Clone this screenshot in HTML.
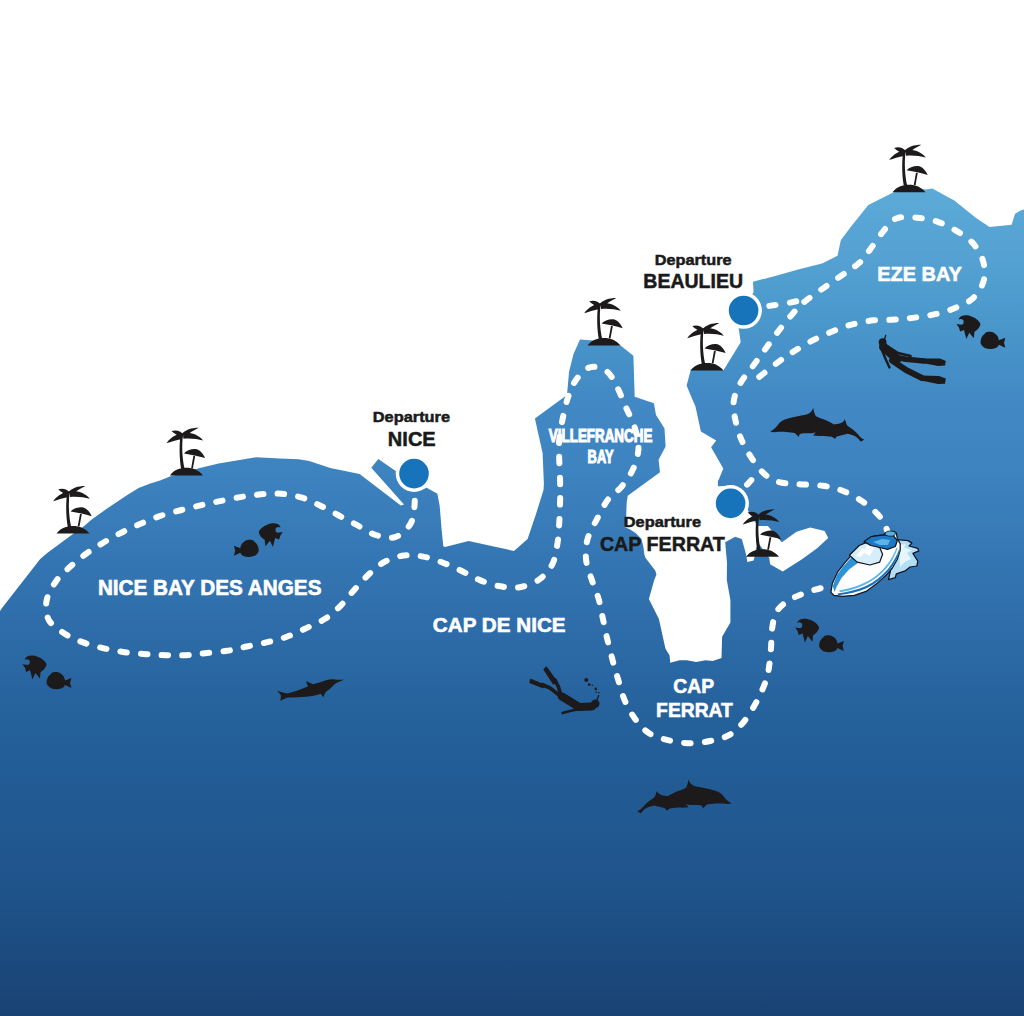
<!DOCTYPE html>
<html><head><meta charset="utf-8"><style>
html,body{margin:0;padding:0;background:#fff;}
svg{display:block;}
text{font-family:"Liberation Sans", sans-serif;font-weight:bold;}
</style></head><body>
<svg width="1024" height="1016" viewBox="0 0 1024 1016">
<defs>
<linearGradient id="sea" gradientUnits="userSpaceOnUse" x1="0" y1="190" x2="0" y2="1016">
<stop offset="0" stop-color="#5caad8"/>
<stop offset="0.018" stop-color="#5aa8d6"/>
<stop offset="0.073" stop-color="#55a2d3"/>
<stop offset="0.161" stop-color="#4a97cb"/>
<stop offset="0.26" stop-color="#4188c4"/>
<stop offset="0.345" stop-color="#3d83bf"/>
<stop offset="0.454" stop-color="#3375b2"/>
<stop offset="0.517" stop-color="#2f6eab"/>
<stop offset="0.648" stop-color="#24609a"/>
<stop offset="0.841" stop-color="#1f548b"/>
<stop offset="1" stop-color="#194274"/>
</linearGradient>
<g id="palm" fill="#1c1a1b">
<path d="M-16.5,0 C-12.5,-5.5 -6.5,-7.6 0,-7.6 C6.5,-7.6 12.5,-5.2 16.5,0 Z"/>
<path d="M-5.2,-6.5 C-7,-16 -7.4,-30 -5.8,-41 L-3.4,-41 C-4.8,-30 -4.2,-17 -1.8,-6.5 Z"/>
<path d="M-3,-41 C-6,-44.6 -10,-45.8 -14.8,-44.4 C-12.5,-42 -9,-39.8 -5.5,-38.6 Z"/>
<path d="M-3,-41.8 C-9,-41.8 -15.5,-38.5 -19.8,-32.3 C-15.5,-33.6 -10.5,-35.5 -4.5,-36.5 Z"/>
<path d="M-4.6,-41.4 C-1,-45.6 5,-47.6 12.3,-47.6 C7.5,-45.2 2.5,-42 -1.5,-38.8 Z"/>
<path d="M-3.5,-42.3 C3,-43.4 11.5,-41.5 16.8,-34.8 C11,-36.3 5,-37.2 -3,-36.6 Z"/>
<path d="M-2.4,-22 C0,-25 4.5,-26.6 9,-26.4 C13.2,-26 16.6,-22 18.7,-17.4 C12,-19.2 5,-20.9 -2.4,-22 Z"/>
<path d="M7,-19.6 L8.8,-19.6 L6.5,-7 L4.7,-7 Z"/>
</g>
<g id="fish" fill="#1c1a1b">
<path d="M24,8.8 C23,6 20,3 15,1.2 C12,0 8,-0.5 5,0.8 C3.5,1.5 2.5,2.8 2.2,4.3 C3.5,3.5 5,3.6 6.5,4.6 C7.3,5.5 7.4,7 6.8,8.6 L5.2,9.6 L0,8.8 L2.5,12.5 L3.6,16.4 L7.5,14.8 L9.8,23.9 L12.8,17.5 L17.3,23.1 L18,16.6 C21,14.8 23.5,12 24,8.8 Z"/>
<path d="M24,27 C24,23.5 25.5,20.5 28,18.8 C29,17 31,16.3 33,16.6 C35,16.3 37,17 38.5,18.5 C40.5,19.5 42,22 42.4,25 L48.8,22.5 L47.5,27.5 L48.8,32.5 L42.3,29.5 C41.5,32 39,33.6 35,33.7 C30.5,34 26.5,32.5 24.8,29.5 C24.2,28.8 24,28 24,27 Z"/>
</g>
<path id="dolphin" d="M100,0 C95,-1.5 91,-2 87,-3.5 C82,-6 76,-6 70,-5.5 C63,-5 58,-4.5 54,-4.5 C50,-7 47,-10 44,-11.5 C44.5,-8 45,-5 45.5,-3.5 C36,-2 24,0 13,0 C8,-2 3,-5 -1,-8 C1,-4 2,-1 3,0.5 C2,3 1,6 0,8 C5,7 9,6 13,6 C25,9 38,12 50,12.5 C55,12.5 58,12.5 61,12 C62,14 63,16 64,18 C65.5,15.5 67,13 68.5,11.5 C72,10 75,9 78,7 C82,4.5 85,2.5 89,1.5 C93,0.8 97,0.5 100,0 Z"/>
<g id="dpair" fill="#1c1a1b">
<path d="M688.5,779.7 C689.5,783 692,785.5 696,786.5 C700,787.3 705,788 710,789.3 C715,790.5 719,792 721.5,794 C723.5,795.8 725,798.5 727,800.3 C728.5,801.6 730,802.5 731.6,803.2 C730,803.8 728.5,804 727,803.9 C724,803.6 720,803.4 716,803.6 C712,803.8 709,804.2 707,804.6 C705.5,806 704.2,807.5 703,808.6 C702.8,807 702,805.8 700.5,805.2 C697,805 694,804.8 690,805 L672,801 L668,796 C672,793.5 677,791.2 682,789.7 C684,789 685.5,788.3 686.3,787.3 C687.3,785 688,782.5 688.5,779.7 Z"/>
<path d="M637.2,811 C638.5,810.8 640,810 641.5,808.6 C644,805.5 648,801.8 652.5,798.8 C654,797.8 655,796.6 655.5,795.2 C655.8,793.7 656.2,792.2 656.9,791 C657.8,793 659.5,794.6 662,795.2 C665,795.8 668,796.2 671,796.5 C676,797.5 681,800 684.5,802.5 C686,803.8 687.5,805.5 688.5,807.3 C686,807.6 683,807.7 680.5,807.6 C677,807.7 673,808 670,808.5 C668.5,809.3 667.5,810.2 666.5,810.5 C666,809.6 665.6,808.8 665,808.2 C661,807.3 657,806.2 654.5,805.4 C651,806 648,807 645.5,808.6 C644,809.5 643,810.5 642.3,811.6 C641.5,812.6 641,813.2 640.6,813.3 C639.5,812.6 638.3,811.9 637.2,811 Z"/>
</g>
</defs>
<rect width="1024" height="1016" fill="#fff"/>
<path d="M0,611 L2.4,607.5 L40.2,559 L47.2,553.1 L70.9,535.4 L82.7,527.2 L91.7,519.5 L109.3,506.9 L126.9,495.2 L138.6,488.1 L150.3,483.4 L160,480.4 L170.5,476.3 L186,472 L199.8,468.1 L218.6,463.4 L256.1,457.3 L280,458.4 L298.7,459.3 L309.2,461.1 L330.3,468.1 L359.6,474 L400.8,505.5 L404,504.5 L371.3,467.7 L378.3,458.9 L396,471.3 L405,488 L420,490 L426.7,487.8 L437.4,493.7 L439.7,506 L441.5,528.5 L443.3,546.3 L445,547 L468.6,541 L514,551 L527.6,539 L536,514 L543.5,490 L543.9,483.8 L542.6,453 L534.9,418.5 L567,395 L569,372 L573.5,354 L580,339.5 L600,341 L620.6,345.6 L633.4,355.8 L634.7,396.8 L653.9,403.2 L656,415 L664.5,428.5 L665.6,446.5 L658.6,459.8 L660,472.2 L627.7,495.7 L626.7,502.6 L626.2,516.4 L624.7,527.2 L629.7,529.2 L635.6,533.1 L641.5,539 L643.4,546.9 L644.4,554.7 L645.4,557.7 L655.2,570.5 L656.5,574.4 L654.2,580 L648.9,598.9 L658.9,619 L665.4,648.5 L669.6,655.6 L670.2,662.7 L679.6,660.3 L686.7,660.3 L696.1,662.1 L705.6,660.3 L712.7,660.9 L721.5,658 L722.1,636.7 L730.4,622.5 L730.4,600 L726.8,580 L727,563 L725.2,542.2 L735.1,536.7 L741.8,539.1 L744.9,550.1 L746.5,556.4 L747.3,561.9 L753.6,560.4 L754.4,557.2 L756,548 L759,544 L765,552 L769.3,558 L770.1,564.3 L782.7,571.4 L802,559.2 L817.1,548.2 L828.2,537.9 L824.7,531 L810.2,527.5 L796.5,531.7 L781.9,542.2 L767.8,526.1 L757.5,526.1 L750,514 L745,505 L737,491 L725,486 L717.9,486.2 L717.9,480.7 L718.6,480 L723.3,468.5 L711.1,447.2 L716.2,440.6 L700.9,431.5 L695.4,406.3 L692.6,400 L686.6,385.6 L690.9,369.4 L700,364 L715,364 L723.4,370.5 L740.7,342.3 L738.5,327.1 L735,322 L750,300 L753.5,292 L753,281.7 L774.3,276.2 L800,268.9 L822,263.4 L837.5,255.7 L840.8,240.2 L850.7,227 L868.3,205 L892.6,192.8 L909,187 L925.7,189.5 L932.3,188.4 L954.3,200.5 L976.4,218.2 L989.6,227 L1011.6,224.8 L1015,213.8 L1020.5,210.5 L1024,209.4 L1024,1016 L0,1016 Z" fill="url(#sea)"/>
<!-- breakwater -->
<!-- routes -->
<g stroke="#fff" stroke-width="6" stroke-linecap="round" stroke-dasharray="6.5 14.17" fill="none">
<path d="M414,478 C414.1,482.4 415.2,496.9 414.6,504.6 C414,512.3 413.6,518.7 410.3,524.1 C407.1,529.5 400.9,535.3 395.1,537.1 C389.3,538.9 382,537 375.7,535 C369.4,533 363.3,528.5 357.2,525.2 C351.1,522 344.9,518.8 338.8,515.5 C332.7,512.2 326.5,508.7 320.4,505.7 C314.3,502.7 308.5,499.7 302,497.7 C295.5,495.7 288.4,494.4 281.5,493.8 C274.6,493.2 267.8,493.8 260.9,494.3 C254,494.9 247.3,495.9 240.3,497.1 C233.3,498.3 225.5,500 218.7,501.4 C211.9,502.8 205.8,504.1 199.3,505.6 C192.8,507.1 186.3,508.7 179.6,510.5 C172.9,512.3 165.6,514.1 158.9,516.4 C152.2,518.7 145.7,521.5 139.3,524.3 C132.9,527.1 126.7,530 120.6,533.1 C114.5,536.2 108.5,539.5 102.8,543 C97,546.5 91.5,549.9 86.1,553.8 C80.7,557.7 75.3,562.2 70.4,566.6 C65.5,571 60.6,574.8 56.6,580.4 C52.6,586 48,593.5 46.7,600.1 C45.4,606.7 45.8,614.2 48.7,619.8 C51.7,625.4 58.7,629.7 64.4,633.5 C70.1,637.3 76.5,639.9 83.1,642.4 C89.7,644.9 96.9,646.7 103.8,648.3 C110.7,649.9 117.5,651.2 124.5,652.2 C131.6,653.2 139.2,653.7 146.1,654.2 C153,654.7 159.2,655 165.8,655.2 C172.4,655.4 178.9,655.5 185.5,655.2 C192.1,654.9 198.2,653.9 205.2,653.2 C212.2,652.5 220.4,651.9 227.3,650.8 C234.2,649.7 240.1,647.9 246.8,646.5 C253.5,645.1 260.7,643.8 267.4,642.2 C274.1,640.6 280.4,639.1 286.9,636.7 C293.4,634.4 299.9,631.2 306.4,628.1 C312.9,625 320.1,622.1 325.9,618.3 C331.7,614.5 336.3,610 341,605.3 C345.7,600.6 349.5,595.2 354,590.2 C358.5,585.2 363.1,579.7 368.1,575 C373.2,570.3 378.4,565.2 384.3,562 C390.2,558.8 397.3,556.4 403.8,555.5 C410.3,554.6 416.8,555.4 423.3,556.6 C429.8,557.8 436.4,560.2 443,562.7 C449.6,565.2 456.5,568.5 462.7,571.5 C468.9,574.5 474.2,577.9 480.4,580.4 C486.6,582.9 493.5,585.1 500.1,586.3 C506.7,587.4 513.2,588.4 519.8,587.3 C526.3,586.1 534,583.2 539.4,579.4 C544.8,575.6 549.2,570.3 552.2,564.6 C555.2,558.9 556.1,551.5 557.2,545 C558.4,538.5 558.6,532.5 559.1,525.3 C559.6,518.1 559.9,508.9 560.1,501.7 C560.3,494.5 560.2,489.2 560.1,482 C560,474.8 559.4,465.1 559.2,458.2 C559.1,451.2 558.6,447.1 559.2,440.3 C559.8,433.5 561.5,424.4 563,417.2 C564.5,409.9 566.1,403 568.2,396.8 C570.4,390.6 572.3,385 575.9,380.1 C579.5,375.2 584.8,368.8 589.9,367.3 C595,365.8 602.1,368 606.6,371.2 C611.1,374.4 613.6,380.5 616.8,386.5 C620,392.5 622.8,400.2 625.8,407 C628.8,413.8 632.6,420.7 634.7,427.5 C636.8,434.3 638.7,441.1 638.5,447.9 C638.3,454.7 636.2,462 633.4,468.4 C630.6,474.8 626.1,481.1 621.9,486.3 C617.7,491.5 612.3,493.9 608.2,499.3 C604.1,504.7 600.7,512 597.2,518.6 C593.8,525.2 589.4,532.3 587.5,539.2 C585.6,546.1 585.4,553.2 586.1,559.9 C586.8,566.6 589.5,572.8 591.6,579.2 C593.7,585.6 596.6,592.1 598.5,598.5 C600.4,604.9 601.3,611.4 602.7,617.8 C604.1,624.2 605.2,630.2 606.8,637.1 C608.4,644 610.5,652.2 612.3,659.1 C614.1,666 615.7,671.5 617.8,678.4 C619.9,685.3 621.7,693.5 624.7,700.4 C627.7,707.3 631.6,714.2 635.7,719.7 C639.8,725.2 644,730 649.5,733.5 C655,737 661.9,738.8 668.8,740.4 C675.7,742 683.4,743.2 690.8,743.2 C698.1,743.2 706.5,741.8 712.9,740.4 C719.3,739 724.3,737.9 729.4,734.9 C734.5,731.9 739.1,727.3 743.2,722.5 C747.3,717.7 751,711.5 754.2,706 C757.4,700.5 760.2,694.9 762.5,689.4 C764.8,683.9 766.6,679.3 768,672.9 C769.4,666.5 770.1,658.1 770.8,650.8 C771.5,643.4 771.2,635.2 772.1,628.8 C773,622.4 773.8,616.9 776.3,612.3 C778.8,607.7 783.2,604.2 787.3,601.2 C791.4,598.2 796.5,596.4 801,594.5 C805.5,592.6 809.2,591.4 814,590 C818.8,588.6 827.3,586.7 830,586" stroke-dashoffset="-1.84"/>
<path d="M888,533 C887.3,531.3 885.9,526.3 884,523 C882.1,519.7 880.6,517 876.8,513.3 C873,509.5 866.7,504.3 861,500.5 C855.3,496.7 848.8,493.2 842.4,490.7 C836,488.2 830,486.8 822.7,485.7 C815.5,484.6 806.6,484.9 798.9,484.2 C791.2,483.5 782.9,483.7 776.5,481.3 C770.1,478.9 765.8,475.8 760.5,470 C755.2,464.2 748.6,453.7 744.6,446.3 C740.6,438.9 738.6,432.7 736.7,425.5 C734.9,418.3 733,410.1 733.5,403.2 C734,396.3 736.7,390.2 739.9,384.1 C743.1,378 748.4,372.4 752.6,366.5 C756.9,360.6 761.1,354.8 765.4,349 C769.6,343.2 773.6,337.4 778.1,331.5 C782.6,325.6 788,318.9 792.5,313.9 C797,308.8 799.4,306 805.2,301.2 C811.1,296.4 820.5,290.2 827.6,285.2 C834.7,280.2 842.6,274.8 848,271 C853.4,267.2 856.3,265.8 860,262.2 C863.7,258.6 866.5,254.2 870.3,249.2 C874.1,244.2 878.3,237.2 882.6,232.1 C886.9,227 890.4,220.9 896.2,218.5 C902,216.1 910.5,217.2 917.4,217.8 C924.3,218.4 931.4,219.7 937.9,221.9 C944.4,224.1 950.6,227.3 956.4,230.8 C962.2,234.3 968.4,238.1 972.8,243.1 C977.2,248.1 981.2,254.5 983,260.8 C984.8,267.1 985.4,274.4 983.7,280.7 C982,287 977.6,293.8 972.8,298.4 C968,302.9 961.3,305.4 955,308 C948.7,310.6 941.9,312.6 935.2,314.2 C928.5,315.8 921.4,316.7 914.7,317.6 C908,318.5 901.7,319.2 894.9,319.6 C888.1,320.1 880.2,319.7 873.7,320.3 C867.2,320.9 861.6,322.2 856,323.5 C850.4,324.8 847.2,325.7 840.3,328.3 C833.4,330.9 822.8,335.4 814.8,339.4 C806.8,343.4 798.9,348.2 792.5,352.2 C786.1,356.2 782.4,359 776.5,363.4 C770.6,367.8 760.2,376.2 757,378.8" stroke-dashoffset="2"/>
<path d="M750,308 C753.1,307.7 761.5,307 768.6,306 C775.7,305 785.9,303.4 792.5,302.1 C799.1,300.8 805.8,298.7 808.4,298" stroke-dashoffset="1.2"/>
<path d="M735,496 C737.1,494 743.7,488.1 747.9,483.8 C752.1,479.5 758,472.3 760,470" stroke-dashoffset="4.2"/>
</g>
<!-- halos & departure circles -->
<circle cx="414" cy="473.6" r="18.3" fill="#fff"/>
<circle cx="414" cy="473.6" r="14.8" fill="#1773ba"/>
<circle cx="743.6" cy="310.5" r="18.3" fill="#fff"/>
<circle cx="743.6" cy="310.5" r="14.8" fill="#1773ba"/>
<circle cx="730.6" cy="503.4" r="18.3" fill="#fff"/>
<circle cx="730.6" cy="503.4" r="14.8" fill="#1773ba"/>
<!-- palms -->
<use href="#palm" x="73" y="533.6"/>
<use href="#palm" x="186.4" y="475.4"/>
<use href="#palm" x="604" y="345.6"/>
<use href="#palm" x="707" y="370.5"/>
<use href="#palm" x="909" y="192.3"/>
<use href="#palm" x="762.5" y="556.8"/>
<!-- fish -->
<use href="#fish" transform="translate(282.7,523.2) scale(-1,1)"/>
<use href="#fish" transform="translate(22.6,655.5)"/>
<use href="#fish" transform="translate(956.5,315.2)"/>
<use href="#fish" transform="translate(795.1,618.6)"/>
<!-- dolphins -->
<use href="#dolphin" fill="#1c1a1b" transform="translate(279,695.6) rotate(-13.6) scale(0.671)"/>
<use href="#dpair"/>
<use href="#dpair" transform="translate(1501.7,-371.7) scale(-1,1)"/>
<g fill="#1c1a1b" stroke="#1c1a1b" stroke-linecap="round" stroke-linejoin="round">
<circle cx="882.6" cy="342.2" r="3.9" stroke="none"/>
<path d="M884.3,340 L885.7,335.4" stroke-width="1.4" fill="none"/>
<path d="M883.5,347 L897,359" stroke-width="9" fill="none"/>
<path d="M881.5,349 L886,360 L889.5,367.5" stroke-width="2.4" fill="none"/>
<path d="M888,346.5 L898,353 L910.6,356" stroke-width="2.4" fill="none"/>
<path d="M894,357 L906,359.2 L924,361" stroke-width="5.6" fill="none"/>
<path d="M892,360.5 L906,370 L922,378" stroke-width="6" fill="none"/>
<path d="M919.5,358.4 L940,358.6 L945.8,361 L945,365.6 L938,366 L920,362.6 Z" stroke="none"/>
<path d="M921,375.4 L939,376 L945.8,378.4 L945,383.8 L938,384 L921,380.4 Z" stroke="none"/>
</g>
<g fill="#1c1a1b" stroke="#1c1a1b" stroke-linecap="round" stroke-linejoin="round">
<circle cx="595.3" cy="703.8" r="4.2" stroke="none"/>
<path d="M597,700 L598.6,695.5" stroke-width="1.3" fill="none"/>
<path d="M592,706.5 L579,707 L562,696.5" stroke-width="8" fill="none"/>
<path d="M580,709 L570,711 L562.5,713" stroke-width="2.4" fill="none"/>
<path d="M560.5,694 L558.5,687 L555,680" stroke-width="3.6" fill="none"/>
<path d="M559,695 L550,688 L542,684.5" stroke-width="3.6" fill="none"/>
<path d="M556.5,682 L546.3,667.6 L544.5,669.5 L553.5,683.5 Z" stroke-width="2"/>
<path d="M544.5,685.5 L531,679.8 L530.3,682.4 L543,687.2 Z" stroke-width="2"/>
<circle cx="586.3" cy="680" r="2" stroke="none"/>
<circle cx="589.2" cy="684.6" r="1.3" stroke="none"/>
<circle cx="592.3" cy="685.2" r="0.8" stroke="none"/>
<circle cx="595.7" cy="688.9" r="1.3" stroke="none"/>
<circle cx="596.2" cy="692.2" r="0.8" stroke="none"/>
<circle cx="598.8" cy="692.8" r="0.8" stroke="none"/>
</g>
<g stroke="#15151f" stroke-width="1.25" stroke-linejoin="round">
<path d="M888.5,579.7 L895.3,577.7 L896.3,573.8 L905.1,570.9 L910,567 L916.8,566 L917.8,561.1 L912.9,553.3 L918.8,550.9 L917.8,548.4 L909,546 L911.9,543.1 L908,540.6 L897.3,539.6 Z" fill="#b3dff5"/>
<path d="M899,545 L906,544 L904,547.5 L912,550 L907,553 L911,559 L905,562 L900,567 Z" fill="#e6f6fd" stroke="none"/>
<path d="M830.9,592.4 L832.3,583.6 L837.7,571.9 L844.5,563.1 L852.3,554.3 L862.1,545.5 L868,539.6 L873.8,536.2 L883.6,534.8 L885.5,532.8 L893.4,531.3 L896.3,532.8 L897.3,538.7 L900.2,543.6 L900.2,550.4 L897.3,559.2 L892.4,568 L885.5,575.8 L876.8,583.6 L866,591.4 L854.3,595.3 L842.6,596.3 L833.8,595.3 Z" fill="#fff"/>
<path d="M832.8,586 L837,575 L843,566.5 L850.4,558.5 L856.3,554 L858.5,562.5 L849,569.5 L841.5,578 L836.5,587 L834.6,592 Z" fill="#2d93d6" stroke="none"/>
<path d="M837.7,593.6 C848,592 858,589.5 866,586 C874,582 882,576 888,569 C893,562 897,556 899,549.5 L900,551 C898,558 894,565 889,571 C883,578 875,584 867,588 C858,592 848,594.5 838,595.2 Z" fill="#1d6fb6" stroke="none"/>
<path d="M839,590.5 C850,588.5 860,585.5 868,581 C877,576 884,569 889,562 C892.5,557 895,552 896.5,547.5 L897.5,548.5 C896,553 893.5,558.5 890,563.5 C885,571 878,577.5 869,582.5 C861,587 851,590.5 840,592.3 Z" fill="#5cb8e8" stroke="none"/>
<path d="M849.4,555.3 L859.2,545.5 L866,542.6 L879.7,547.5 L882.6,554.3 L879.7,562.1 L869.9,565 L857.2,562.1 Z" fill="#d5eefa"/>
<path d="M856,556 L862,548.5 L866,550 L861,557 Z M867,545 L874,547.5 L870,556 L864,553 Z" fill="#fff" stroke="none"/>
<path d="M864.1,541.6 L870.9,536.7 L883.6,534.8 L893.4,535.7 L897.3,540.6 L895.3,546.5 L887.5,549.4 L879.7,547.5 L870.9,545.5 Z" fill="#1c78c2"/>
<path d="M873,542 L882,539 L890,540 L888,545 L880,545 Z" fill="#5ab6e8" stroke="none"/>
<ellipse cx="890.4" cy="533.6" rx="5" ry="2.6" fill="#52b2e6" stroke-width="0.8"/>
</g>
<!-- labels -->
<text x="411.4" y="421.7" font-size="14.8" text-anchor="middle" textLength="77.3" lengthAdjust="spacingAndGlyphs" fill="#1a1a1a" stroke="#1a1a1a" stroke-width="0.5">Departure</text>
<text x="411.8" y="445.7" font-size="20" text-anchor="middle" textLength="47.9" lengthAdjust="spacingAndGlyphs" fill="#1a1a1a" stroke="#1a1a1a" stroke-width="0.5">NICE</text>
<text x="693.2" y="264.9" font-size="14.8" text-anchor="middle" textLength="76.8" lengthAdjust="spacingAndGlyphs" fill="#1a1a1a" stroke="#1a1a1a" stroke-width="0.5">Departure</text>
<text x="693.2" y="288.2" font-size="19.5" text-anchor="middle" textLength="99.7" lengthAdjust="spacingAndGlyphs" fill="#1a1a1a" stroke="#1a1a1a" stroke-width="0.5">BEAULIEU</text>
<text x="662.4" y="526.9" font-size="14.8" text-anchor="middle" textLength="77.3" lengthAdjust="spacingAndGlyphs" fill="#1a1a1a" stroke="#1a1a1a" stroke-width="0.5">Departure</text>
<text x="662.4" y="550.8" font-size="19.8" text-anchor="middle" textLength="125" lengthAdjust="spacingAndGlyphs" fill="#1a1a1a" stroke="#1a1a1a" stroke-width="0.5">CAP FERRAT</text>
<text x="209.7" y="595.2" font-size="21.2" text-anchor="middle" textLength="223.6" lengthAdjust="spacingAndGlyphs" fill="#fff" stroke="#fff" stroke-width="0.6">NICE BAY DES ANGES</text>
<text x="499.2" y="631.6" font-size="20.6" text-anchor="middle" textLength="132.8" lengthAdjust="spacingAndGlyphs" fill="#fff" stroke="#fff" stroke-width="0.6">CAP DE NICE</text>
<text x="919.6" y="280.8" font-size="21" text-anchor="middle" textLength="84.6" lengthAdjust="spacingAndGlyphs" fill="#fff" stroke="#fff" stroke-width="0.6">EZE BAY</text>
<text x="693.7" y="693.1" font-size="20.2" text-anchor="middle" textLength="40.8" lengthAdjust="spacingAndGlyphs" fill="#fff" stroke="#fff" stroke-width="0.6">CAP</text>
<text x="694.5" y="717.3" font-size="20.2" text-anchor="middle" textLength="76.8" lengthAdjust="spacingAndGlyphs" fill="#fff" stroke="#fff" stroke-width="0.6">FERRAT</text>
<text x="600.6" y="441.6" font-size="18.4" text-anchor="middle" textLength="103.5" lengthAdjust="spacingAndGlyphs" fill="#fff" stroke="#fff" stroke-width="1.1">VILLEFRANCHE</text>
<text x="600.6" y="463.2" font-size="17.5" text-anchor="middle" textLength="26" lengthAdjust="spacingAndGlyphs" fill="#fff" stroke="#fff" stroke-width="1">BAY</text>
</svg>
</body></html>
